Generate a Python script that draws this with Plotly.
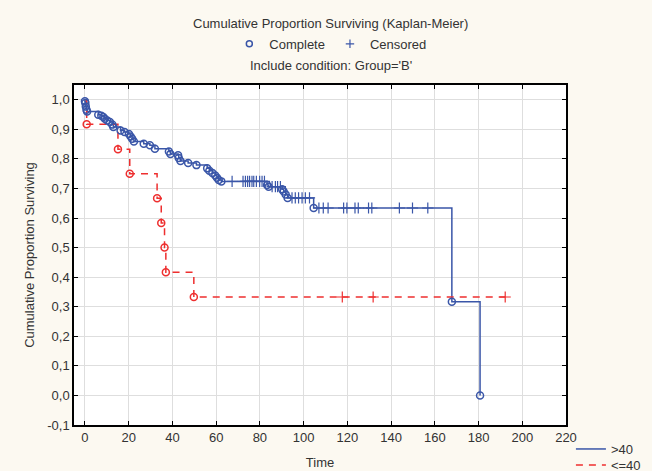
import plotly.graph_objects as go

# ---------------- data ----------------
blue_event_t = [0.0, 0.2, 0.4, 0.7, 1.0, 6.1, 7.5, 8.4, 9.1, 10.2, 11.4, 12.5, 13.0,
                16.3, 18.1, 20.1, 20.9, 21.6, 22.4, 26.9, 29.7, 32.0, 38.4, 39.1,
                42.6, 42.9, 43.7, 47.2, 51.0, 55.9, 56.9, 58.3, 59.6, 60.4, 61.2,
                62.4, 83.3, 84.0, 90.2, 90.9, 91.8, 92.7, 104.6, 167.8, 180.7]
blue_event_s = [0.995, 0.989, 0.977, 0.966, 0.960, 0.949, 0.946, 0.942, 0.936, 0.930,
                0.925, 0.916, 0.908, 0.896, 0.891, 0.884, 0.876, 0.868, 0.859, 0.851,
                0.846, 0.834, 0.825, 0.817, 0.812, 0.803, 0.793, 0.786, 0.779, 0.768,
                0.760, 0.752, 0.744, 0.736, 0.729, 0.724, 0.712, 0.706, 0.697, 0.690,
                0.680, 0.668, 0.634, 0.317, 0.0]
blue_cens_t = [67.3, 72.3, 73.4, 74.4, 75.3, 76.4, 77.2, 78.4, 79.9, 81.0, 82.1,
               85.6, 87.1, 88.1, 89.4, 94.7, 96.2, 97.7, 99.3, 100.8, 102.7,
               107.0, 109.0, 111.2, 118.3, 119.8, 123.5, 125.0, 129.7, 131.2,
               143.8, 149.8, 156.8]

red_event_t = [0.8, 15.1, 20.5, 33.0, 34.9, 36.4, 37.0, 49.8]
red_event_s = [0.917, 0.833, 0.750, 0.667, 0.583, 0.500, 0.417, 0.333]
red_cens_t = [117.7, 131.8, 192.2]

x_ticks = [0, 20, 40, 60, 80, 100, 120, 140, 160, 180, 200, 220]
y_ticks = [-0.1, 0.0, 0.1, 0.2, 0.3, 0.4, 0.5, 0.6, 0.7, 0.8, 0.9, 1.0]
y_ticktext = ["-0,1", "0,0", "0,1", "0,2", "0,3", "0,4", "0,5", "0,6", "0,7", "0,8", "0,9", "1,0"]

BLUE = "#3a56a8"
RED = "#ee2f2f"
FONT = "Liberation Sans, Arial, sans-serif"
TXT = "#333333"
FS = 13
BG = "#fcf9f1"


def level_at(t, ev_t, ev_s):
    s = 1.0
    for et, es in zip(ev_t, ev_s):
        if et <= t:
            s = es
    return s


def step_path(ev_t, ev_s, cens_t):
    xs, ys = [0.0], [1.0]
    for et, es in zip(ev_t, ev_s):
        xs.append(et)
        ys.append(es)
    end = max(list(ev_t) + list(cens_t))
    if xs[-1] < end:
        xs.append(end)
        ys.append(level_at(end, ev_t, ev_s))
    return xs, ys


fig = go.Figure()

bx, by = step_path(blue_event_t, blue_event_s, blue_cens_t)
rx, ry = step_path(red_event_t, red_event_s, red_cens_t)

fig.add_trace(go.Scatter(x=bx, y=by, mode="lines", line=dict(color=BLUE, width=1.5, shape="hv"),
                         name=">40", legend="legend"))
fig.add_trace(go.Scatter(x=rx, y=ry, mode="lines", line=dict(color=RED, width=1.5, shape="hv", dash="7px,6px"),
                         name="<=40", legend="legend3"))

# event markers
fig.add_trace(go.Scatter(x=blue_event_t, y=blue_event_s, mode="markers", showlegend=False,
                         marker=dict(symbol="circle-open", size=7, color=BLUE, line=dict(width=1.5, color=BLUE))))
fig.add_trace(go.Scatter(x=red_event_t, y=red_event_s, mode="markers", showlegend=False,
                         marker=dict(symbol="circle-open", size=7, color=RED, line=dict(width=1.5, color=RED))))
# censored markers
fig.add_trace(go.Scatter(x=blue_cens_t, y=[level_at(t, blue_event_t, blue_event_s) for t in blue_cens_t],
                         mode="markers", showlegend=False,
                         marker=dict(symbol="cross-thin", size=8, color=BLUE, line=dict(width=1.2, color=BLUE))))
fig.add_trace(go.Scatter(x=red_cens_t, y=[level_at(t, red_event_t, red_event_s) for t in red_cens_t],
                         mode="markers", showlegend=False,
                         marker=dict(symbol="cross-thin", size=8, color=RED, line=dict(width=1.2, color=RED))))

# header legend entries
fig.add_trace(go.Scatter(x=[None], y=[None], mode="markers", name="Complete", legend="legend2",
                         marker=dict(symbol="circle-open", size=6, color=BLUE, line=dict(width=1.5, color=BLUE))))
fig.add_trace(go.Scatter(x=[None], y=[None], mode="markers", name="Censored", legend="legend2",
                         marker=dict(symbol="cross-thin", size=6, color=BLUE, line=dict(width=1.2, color=BLUE))))

axis_common = dict(showline=True, linecolor="black", linewidth=1.5, mirror="ticks",
                   ticks="inside", ticklen=4, tickcolor="black", showgrid=True,
                   gridcolor="#dedede", gridwidth=1, zeroline=False, automargin=False,
                   tickfont=dict(family=FONT, size=FS, color=TXT))

legend_common = dict(xanchor="left", yanchor="middle", bgcolor="rgba(0,0,0,0)",
                     font=dict(family=FONT, size=FS, color=TXT))

fig.update_layout(
    width=652, height=471, autosize=False,
    margin=dict(l=74, r=86, t=85, b=46, autoexpand=False),
    paper_bgcolor=BG, plot_bgcolor="white",
    font=dict(family=FONT, size=FS, color=TXT),
    xaxis=dict(range=[-5, 220], tickvals=x_ticks,
               title=dict(text="Time", font=dict(family=FONT, size=FS, color=TXT), standoff=14),
               **axis_common),
    yaxis=dict(range=[-0.1, 1.05], tickvals=y_ticks, ticktext=y_ticktext,
               title=dict(text="Cumulative Proportion Surviving", font=dict(family=FONT, size=FS, color=TXT),
                          standoff=10),
               **axis_common),
    legend=dict(x=1.01, y=-0.0706, **legend_common),
    legend3=dict(x=1.01, y=-0.1176, **legend_common),
    legend2=dict(orientation="h", x=0.522, y=1.121, xanchor="center", yanchor="middle",
                 bgcolor="rgba(0,0,0,0)", font=dict(family=FONT, size=FS, color=TXT)),
    annotations=[
        dict(text="Cumulative Proportion Surviving (Kaplan-Meier)", xref="paper", yref="paper",
             x=0.522, y=1.182, xanchor="center", yanchor="middle", showarrow=False,
             font=dict(family=FONT, size=FS, color=TXT)),
        dict(text="Include condition: Group='B'", xref="paper", yref="paper",
             x=0.522, y=1.056, xanchor="center", yanchor="middle", showarrow=False,
             font=dict(family=FONT, size=FS, color=TXT)),
    ],
)

fig.write_html(
    "out.html",
    config={"displayModeBar": False},
    post_script="document.body.style.margin='0';document.body.style.background='" + BG + "';"
                "document.body.style.overflow='hidden';",
)
